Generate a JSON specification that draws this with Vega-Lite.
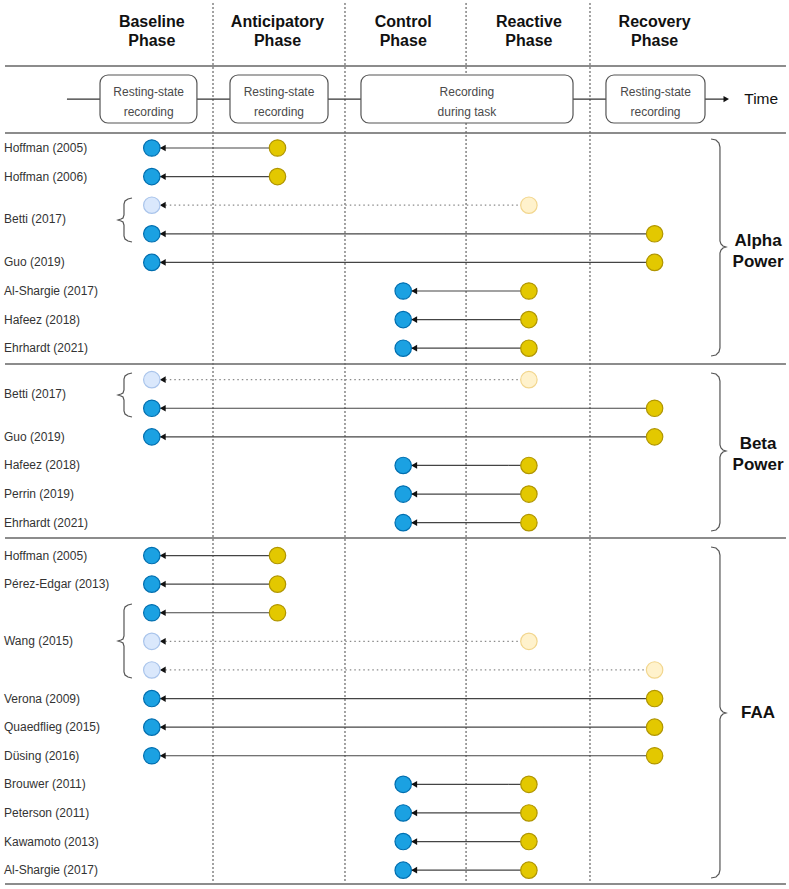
{
  "$schema": "https://vega.github.io/schema/vega-lite/v6.json",
  "width": 789,
  "height": 889,
  "autosize": {"type": "fit", "contains": "padding"},
  "padding": 0,
  "background": "white",
  "config": {"view": {"stroke": null}, "axis": {"disable": true}, "text": {"font": "Liberation Sans"}},
  "datasets": {
    "headers": [
      {"p": 1, "t": "Baseline\nPhase"},
      {"p": 2, "t": "Anticipatory\nPhase"},
      {"p": 3, "t": "Control\nPhase"},
      {"p": 4, "t": "Reactive\nPhase"},
      {"p": 5, "t": "Recovery\nPhase"}
    ],
    "hlines": [
      {"y": -1.867}, {"y": 0.476}, {"y": 8.552}, {"y": 14.636}, {"y": 26.734}
    ],
    "vlines": [
      {"x": 1.487}, {"x": 2.537}, {"x": 3.5}, {"x": 4.486}
    ],
    "boxes": [
      {"x1": 0.588, "x2": 1.359, "cx": 0.975, "t": "Resting-state\nrecording"},
      {"x1": 1.622, "x2": 2.402, "cx": 2.012, "t": "Resting-state\nrecording"},
      {"x1": 2.664, "x2": 4.351, "cx": 3.507, "t": "Recording\nduring task"},
      {"x1": 4.613, "x2": 5.401, "cx": 5.007, "t": "Resting-state\nrecording"}
    ],
    "timeline": [{"x1": 0.325, "x2": 5.57, "y": -0.71}],
    "labels": [
      {"r": 1, "t": "Hoffman (2005)"},
      {"r": 2, "t": "Hoffman (2006)"},
      {"r": 3.5, "t": "Betti (2017)"},
      {"r": 5, "t": "Guo (2019)"},
      {"r": 6, "t": "Al-Shargie (2017)"},
      {"r": 7, "t": "Hafeez (2018)"},
      {"r": 8, "t": "Ehrhardt (2021)"},
      {"r": 9.6, "t": "Betti (2017)"},
      {"r": 11.1, "t": "Guo (2019)"},
      {"r": 12.1, "t": "Hafeez (2018)"},
      {"r": 13.1, "t": "Perrin (2019)"},
      {"r": 14.1, "t": "Ehrhardt (2021)"},
      {"r": 15.25, "t": "Hoffman (2005)"},
      {"r": 16.25, "t": "Pérez-Edgar (2013)"},
      {"r": 18.25, "t": "Wang (2015)"},
      {"r": 20.25, "t": "Verona (2009)"},
      {"r": 21.25, "t": "Quaedflieg (2015)"},
      {"r": 22.25, "t": "Düsing (2016)"},
      {"r": 23.25, "t": "Brouwer (2011)"},
      {"r": 24.25, "t": "Peterson (2011)"},
      {"r": 25.25, "t": "Kawamoto (2013)"},
      {"r": 26.25, "t": "Al-Shargie (2017)"}
    ],
    "links": [
      {"r": 1, "from": 1, "to": 2, "faded": false},
      {"r": 2, "from": 1, "to": 2, "faded": false},
      {"r": 3, "from": 1, "to": 4, "faded": true},
      {"r": 4, "from": 1, "to": 5, "faded": false},
      {"r": 5, "from": 1, "to": 5, "faded": false},
      {"r": 6, "from": 3, "to": 4, "faded": false},
      {"r": 7, "from": 3, "to": 4, "faded": false},
      {"r": 8, "from": 3, "to": 4, "faded": false},
      {"r": 9.1, "from": 1, "to": 4, "faded": true},
      {"r": 10.1, "from": 1, "to": 5, "faded": false},
      {"r": 11.1, "from": 1, "to": 5, "faded": false},
      {"r": 12.1, "from": 3, "to": 4, "faded": false},
      {"r": 13.1, "from": 3, "to": 4, "faded": false},
      {"r": 14.1, "from": 3, "to": 4, "faded": false},
      {"r": 15.25, "from": 1, "to": 2, "faded": false},
      {"r": 16.25, "from": 1, "to": 2, "faded": false},
      {"r": 17.25, "from": 1, "to": 2, "faded": false},
      {"r": 18.25, "from": 1, "to": 4, "faded": true},
      {"r": 19.25, "from": 1, "to": 5, "faded": true},
      {"r": 20.25, "from": 1, "to": 5, "faded": false},
      {"r": 21.25, "from": 1, "to": 5, "faded": false},
      {"r": 22.25, "from": 1, "to": 5, "faded": false},
      {"r": 23.25, "from": 3, "to": 4, "faded": false},
      {"r": 24.25, "from": 3, "to": 4, "faded": false},
      {"r": 25.25, "from": 3, "to": 4, "faded": false},
      {"r": 26.25, "from": 3, "to": 4, "faded": false}
    ],
    "groups": [
      {"r": 4.251, "t": "Alpha\nPower"},
      {"r": 11.36, "t": "Beta\nPower"},
      {"r": 20.755, "t": "FAA"}
    ],
    "braces": [
      {"id": "a", "i": 1, "x": 5.449, "y": 0.685}, {"id": "a", "i": 2, "x": 5.488, "y": 0.72}, {"id": "a", "i": 3, "x": 5.512, "y": 0.825}, {"id": "a", "i": 4, "x": 5.52, "y": 0.965}, {"id": "a", "i": 5, "x": 5.52, "y": 4.252}, {"id": "a", "i": 6, "x": 5.528, "y": 4.357}, {"id": "a", "i": 7, "x": 5.544, "y": 4.427}, {"id": "a", "i": 8, "x": 5.568, "y": 4.462}, {"id": "a", "i": 9, "x": 5.544, "y": 4.497}, {"id": "a", "i": 10, "x": 5.528, "y": 4.566}, {"id": "a", "i": 11, "x": 5.52, "y": 4.671}, {"id": "a", "i": 12, "x": 5.52, "y": 7.993}, {"id": "a", "i": 13, "x": 5.512, "y": 8.133}, {"id": "a", "i": 14, "x": 5.488, "y": 8.238}, {"id": "a", "i": 15, "x": 5.449, "y": 8.273},
      {"id": "b", "i": 1, "x": 5.449, "y": 8.867}, {"id": "b", "i": 2, "x": 5.488, "y": 8.902}, {"id": "b", "i": 3, "x": 5.512, "y": 9.007}, {"id": "b", "i": 4, "x": 5.52, "y": 9.147}, {"id": "b", "i": 5, "x": 5.52, "y": 11.385}, {"id": "b", "i": 6, "x": 5.528, "y": 11.49}, {"id": "b", "i": 7, "x": 5.544, "y": 11.559}, {"id": "b", "i": 8, "x": 5.568, "y": 11.594}, {"id": "b", "i": 9, "x": 5.544, "y": 11.629}, {"id": "b", "i": 10, "x": 5.528, "y": 11.699}, {"id": "b", "i": 11, "x": 5.52, "y": 11.804}, {"id": "b", "i": 12, "x": 5.52, "y": 14.112}, {"id": "b", "i": 13, "x": 5.512, "y": 14.252}, {"id": "b", "i": 14, "x": 5.488, "y": 14.357}, {"id": "b", "i": 15, "x": 5.449, "y": 14.392},
      {"id": "f", "i": 1, "x": 5.449, "y": 14.951}, {"id": "f", "i": 2, "x": 5.488, "y": 14.986}, {"id": "f", "i": 3, "x": 5.512, "y": 15.091}, {"id": "f", "i": 4, "x": 5.52, "y": 15.231}, {"id": "f", "i": 5, "x": 5.52, "y": 20.545}, {"id": "f", "i": 6, "x": 5.528, "y": 20.65}, {"id": "f", "i": 7, "x": 5.544, "y": 20.72}, {"id": "f", "i": 8, "x": 5.568, "y": 20.755}, {"id": "f", "i": 9, "x": 5.544, "y": 20.79}, {"id": "f", "i": 10, "x": 5.528, "y": 20.86}, {"id": "f", "i": 11, "x": 5.52, "y": 20.965}, {"id": "f", "i": 12, "x": 5.52, "y": 26.245}, {"id": "f", "i": 13, "x": 5.512, "y": 26.385}, {"id": "f", "i": 14, "x": 5.488, "y": 26.49}, {"id": "f", "i": 15, "x": 5.449, "y": 26.524},
      {"id": "s1", "i": 1, "x": 0.8425, "y": 2.748}, {"id": "s1", "i": 2, "x": 0.8107, "y": 2.783}, {"id": "s1", "i": 3, "x": 0.7868, "y": 2.853}, {"id": "s1", "i": 4, "x": 0.7788, "y": 2.958}, {"id": "s1", "i": 5, "x": 0.7788, "y": 3.343}, {"id": "s1", "i": 6, "x": 0.7709, "y": 3.448}, {"id": "s1", "i": 7, "x": 0.755, "y": 3.483}, {"id": "s1", "i": 8, "x": 0.7311, "y": 3.517}, {"id": "s1", "i": 9, "x": 0.755, "y": 3.552}, {"id": "s1", "i": 10, "x": 0.7709, "y": 3.587}, {"id": "s1", "i": 11, "x": 0.7788, "y": 3.692}, {"id": "s1", "i": 12, "x": 0.7788, "y": 4.077}, {"id": "s1", "i": 13, "x": 0.7868, "y": 4.182}, {"id": "s1", "i": 14, "x": 0.8107, "y": 4.252}, {"id": "s1", "i": 15, "x": 0.8425, "y": 4.287},
      {"id": "s2", "i": 1, "x": 0.8425, "y": 8.867}, {"id": "s2", "i": 2, "x": 0.8107, "y": 8.902}, {"id": "s2", "i": 3, "x": 0.7868, "y": 8.972}, {"id": "s2", "i": 4, "x": 0.7788, "y": 9.077}, {"id": "s2", "i": 5, "x": 0.7788, "y": 9.462}, {"id": "s2", "i": 6, "x": 0.7709, "y": 9.566}, {"id": "s2", "i": 7, "x": 0.755, "y": 9.601}, {"id": "s2", "i": 8, "x": 0.7311, "y": 9.636}, {"id": "s2", "i": 9, "x": 0.755, "y": 9.671}, {"id": "s2", "i": 10, "x": 0.7709, "y": 9.706}, {"id": "s2", "i": 11, "x": 0.7788, "y": 9.811}, {"id": "s2", "i": 12, "x": 0.7788, "y": 10.196}, {"id": "s2", "i": 13, "x": 0.7868, "y": 10.301}, {"id": "s2", "i": 14, "x": 0.8107, "y": 10.371}, {"id": "s2", "i": 15, "x": 0.8425, "y": 10.406},
      {"id": "s3", "i": 1, "x": 0.8425, "y": 16.944}, {"id": "s3", "i": 2, "x": 0.8107, "y": 16.979}, {"id": "s3", "i": 3, "x": 0.7868, "y": 17.049}, {"id": "s3", "i": 4, "x": 0.7788, "y": 17.154}, {"id": "s3", "i": 5, "x": 0.7788, "y": 18.063}, {"id": "s3", "i": 6, "x": 0.7709, "y": 18.168}, {"id": "s3", "i": 7, "x": 0.755, "y": 18.203}, {"id": "s3", "i": 8, "x": 0.7311, "y": 18.238}, {"id": "s3", "i": 9, "x": 0.755, "y": 18.273}, {"id": "s3", "i": 10, "x": 0.7709, "y": 18.308}, {"id": "s3", "i": 11, "x": 0.7788, "y": 18.413}, {"id": "s3", "i": 12, "x": 0.7788, "y": 19.322}, {"id": "s3", "i": 13, "x": 0.7868, "y": 19.427}, {"id": "s3", "i": 14, "x": 0.8107, "y": 19.497}, {"id": "s3", "i": 15, "x": 0.8425, "y": 19.531}
    ]
  },
  "layer": [
    {
      "data": {"name": "vlines"},
      "mark": {"type": "rule", "stroke": "#444444", "strokeWidth": 1, "strokeDash": [2, 2]},
      "encoding": {
        "x": {"field": "x", "type": "quantitative", "scale": {"domain": [-0.2076, 6.0692], "nice": false, "zero": false}},
        "y": {"datum": -4.07, "type": "quantitative", "scale": {"domain": [-4.1748, 26.9091], "nice": false, "zero": false, "reverse": true}},
        "y2": {"datum": 26.66}
      }
    },
    {
      "data": {"name": "hlines"},
      "mark": {"type": "rule", "stroke": "#666666", "strokeWidth": 1.6},
      "encoding": {
        "x": {"datum": -0.168, "type": "quantitative", "scale": {"domain": [-0.2076, 6.0692], "nice": false, "zero": false}},
        "x2": {"datum": 6.045},
        "y": {"field": "y", "type": "quantitative", "scale": {"domain": [-4.1748, 26.9091], "nice": false, "zero": false, "reverse": true}}
      }
    },
    {
      "data": {"name": "headers"},
      "mark": {"type": "text", "fontSize": 16, "fontWeight": "bold", "color": "#111111", "lineBreak": "\n", "lineHeight": 19, "align": "center", "baseline": "middle"},
      "encoding": {
        "x": {"field": "p", "type": "quantitative", "scale": {"domain": [-0.2076, 6.0692], "nice": false, "zero": false}},
        "y": {"datum": -3.423, "type": "quantitative", "scale": {"domain": [-4.1748, 26.9091], "nice": false, "zero": false, "reverse": true}},
        "text": {"field": "t"}
      }
    },
    {
      "data": {"name": "timeline"},
      "mark": {"type": "rule", "stroke": "#333333", "strokeWidth": 1.2},
      "encoding": {
        "x": {"field": "x1", "type": "quantitative", "scale": {"domain": [-0.2076, 6.0692], "nice": false, "zero": false}},
        "x2": {"field": "x2"},
        "y": {"field": "y", "type": "quantitative", "scale": {"domain": [-4.1748, 26.9091], "nice": false, "zero": false, "reverse": true}}
      }
    },
    {
      "data": {"name": "timeline"},
      "mark": {"type": "point", "shape": "triangle-right", "size": 40, "filled": true, "fill": "#111111", "opacity": 1},
      "encoding": {
        "x": {"field": "x2", "type": "quantitative", "scale": {"domain": [-0.2076, 6.0692], "nice": false, "zero": false}},
        "y": {"field": "y", "type": "quantitative", "scale": {"domain": [-4.1748, 26.9091], "nice": false, "zero": false, "reverse": true}}
      }
    },
    {
      "data": {"name": "timeline"},
      "mark": {"type": "text", "text": "Time", "fontSize": 15.5, "color": "#111111", "align": "left", "baseline": "middle", "dx": 18},
      "encoding": {
        "x": {"field": "x2", "type": "quantitative", "scale": {"domain": [-0.2076, 6.0692], "nice": false, "zero": false}},
        "y": {"field": "y", "type": "quantitative", "scale": {"domain": [-4.1748, 26.9091], "nice": false, "zero": false, "reverse": true}}
      }
    },
    {
      "data": {"name": "boxes"},
      "mark": {"type": "rect", "fill": "white", "stroke": "#555555", "strokeWidth": 1.2, "cornerRadius": 8},
      "encoding": {
        "x": {"field": "x1", "type": "quantitative", "scale": {"domain": [-0.2076, 6.0692], "nice": false, "zero": false}},
        "x2": {"field": "x2"},
        "y": {"datum": -1.552, "type": "quantitative", "scale": {"domain": [-4.1748, 26.9091], "nice": false, "zero": false, "reverse": true}},
        "y2": {"datum": 0.126}
      }
    },
    {
      "data": {"name": "boxes"},
      "mark": {"type": "text", "fontSize": 12, "color": "#4a4a4a", "lineBreak": "\n", "lineHeight": 20, "align": "center", "baseline": "middle"},
      "encoding": {
        "x": {"field": "cx", "type": "quantitative", "scale": {"domain": [-0.2076, 6.0692], "nice": false, "zero": false}},
        "y": {"datum": -0.958, "type": "quantitative", "scale": {"domain": [-4.1748, 26.9091], "nice": false, "zero": false, "reverse": true}},
        "text": {"field": "t"}
      }
    },
    {
      "data": {"name": "labels"},
      "mark": {"type": "text", "fontSize": 12, "color": "#333333", "align": "left", "baseline": "middle"},
      "encoding": {
        "x": {"datum": -0.176, "type": "quantitative", "scale": {"domain": [-0.2076, 6.0692], "nice": false, "zero": false}},
        "y": {"field": "r", "type": "quantitative", "scale": {"domain": [-4.1748, 26.9091], "nice": false, "zero": false, "reverse": true}},
        "text": {"field": "t"}
      }
    },
    {
      "data": {"name": "braces"},
      "mark": {"type": "line", "stroke": "#555555", "strokeWidth": 1.2, "interpolate": "linear"},
      "encoding": {
        "x": {"field": "x", "type": "quantitative", "scale": {"domain": [-0.2076, 6.0692], "nice": false, "zero": false}},
        "y": {"field": "y", "type": "quantitative", "scale": {"domain": [-4.1748, 26.9091], "nice": false, "zero": false, "reverse": true}},
        "detail": {"field": "id"},
        "order": {"field": "i", "type": "quantitative"}
      }
    },
    {
      "data": {"name": "groups"},
      "mark": {"type": "text", "fontSize": 17, "fontWeight": "bold", "color": "#111111", "lineBreak": "\n", "lineHeight": 21, "align": "center", "baseline": "middle"},
      "encoding": {
        "x": {"datum": 5.823, "type": "quantitative", "scale": {"domain": [-0.2076, 6.0692], "nice": false, "zero": false}},
        "y": {"field": "r", "type": "quantitative", "scale": {"domain": [-4.1748, 26.9091], "nice": false, "zero": false, "reverse": true}},
        "text": {"field": "t"}
      }
    },
    {
      "data": {"name": "links"},
      "mark": {"type": "rule", "strokeWidth": 1.2},
      "encoding": {
        "x": {"field": "from", "type": "quantitative", "scale": {"domain": [-0.2076, 6.0692], "nice": false, "zero": false}},
        "x2": {"field": "to"},
        "y": {"field": "r", "type": "quantitative", "scale": {"domain": [-4.1748, 26.9091], "nice": false, "zero": false, "reverse": true}},
        "stroke": {"condition": {"test": "datum.faded", "value": "#8a8a8a"}, "value": "#444444"},
        "strokeDash": {"condition": {"test": "datum.faded", "value": [1.5, 3]}, "value": [1, 0]}
      }
    },
    {
      "data": {"name": "links"},
      "mark": {"type": "point", "shape": "triangle-left", "size": 45, "filled": true, "fill": "#111111", "opacity": 1, "xOffset": 11},
      "encoding": {
        "x": {"field": "from", "type": "quantitative", "scale": {"domain": [-0.2076, 6.0692], "nice": false, "zero": false}},
        "y": {"field": "r", "type": "quantitative", "scale": {"domain": [-4.1748, 26.9091], "nice": false, "zero": false, "reverse": true}}
      }
    },
    {
      "data": {"name": "links"},
      "mark": {"type": "point", "shape": "circle", "size": 270, "filled": true, "opacity": 1, "strokeWidth": 1.2},
      "encoding": {
        "x": {"field": "from", "type": "quantitative", "scale": {"domain": [-0.2076, 6.0692], "nice": false, "zero": false}},
        "y": {"field": "r", "type": "quantitative", "scale": {"domain": [-4.1748, 26.9091], "nice": false, "zero": false, "reverse": true}},
        "fill": {"condition": {"test": "datum.faded", "value": "#DAE8FC"}, "value": "#1BA1E2"},
        "stroke": {"condition": {"test": "datum.faded", "value": "#A9C4EB"}, "value": "#006EAF"}
      }
    },
    {
      "data": {"name": "links"},
      "mark": {"type": "point", "shape": "circle", "size": 270, "filled": true, "opacity": 1, "strokeWidth": 1.2},
      "encoding": {
        "x": {"field": "to", "type": "quantitative", "scale": {"domain": [-0.2076, 6.0692], "nice": false, "zero": false}},
        "y": {"field": "r", "type": "quantitative", "scale": {"domain": [-4.1748, 26.9091], "nice": false, "zero": false, "reverse": true}},
        "fill": {"condition": {"test": "datum.faded", "value": "#FFF2CC"}, "value": "#E3C800"},
        "stroke": {"condition": {"test": "datum.faded", "value": "#F2D68E"}, "value": "#B09500"}
      }
    }
  ]
}
